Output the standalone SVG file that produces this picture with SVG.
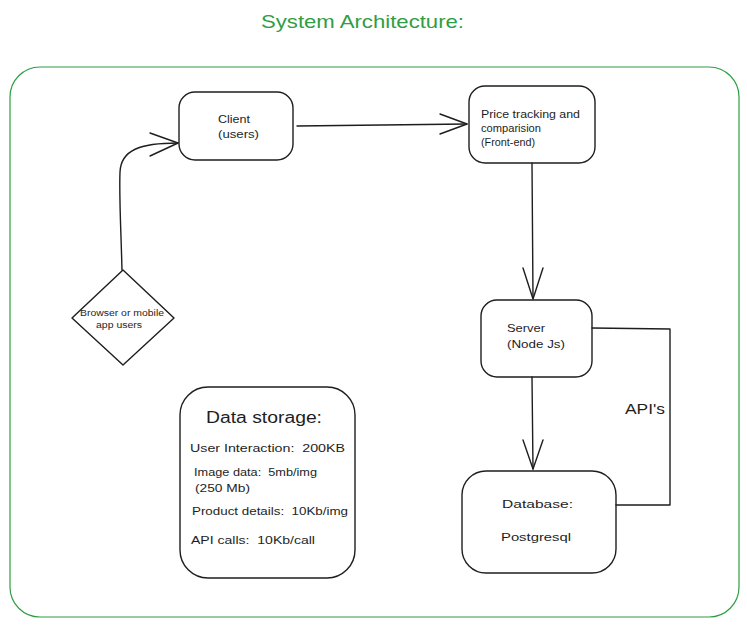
<svg xmlns="http://www.w3.org/2000/svg" width="747" height="627" viewBox="0 0 747 627">
<style>
.box{fill:none;stroke:#1e1e1e;stroke-width:1.4}
.ln{fill:none;stroke:#1e1e1e;stroke-width:1.4;stroke-linecap:round;stroke-linejoin:round}
text{font-family:"Liberation Sans",Arial,sans-serif;fill:#1e1e1e;white-space:pre}
.t{font-size:11.5px}
.s{font-size:10px}
</style>
<rect width="747" height="627" fill="#ffffff"/>
<text x="261" y="28" textLength="203" lengthAdjust="spacingAndGlyphs" style="font-size:19px;fill:#2f9e44">System Architecture:</text>
<rect x="10" y="67" width="729" height="550" rx="30" fill="none" stroke="#2f9e44" stroke-width="1.2"/>
<g id="connectors">
<path class="ln" d="M122,270 C121,230 119,195 120,172 C121,150 140,143 178,143"/>
<path class="ln" d="M150,133 L178,143 L150,156"/>
<path class="ln" d="M297,126 L467,124"/>
<path class="ln" d="M440,114 L467,124 L440,134"/>
<path class="ln" d="M532,163 L533,298"/>
<path class="ln" d="M523,268 L533,299 L543,268"/>
<path class="ln" d="M532,377 L533,469"/>
<path class="ln" d="M523,440 L533,469 L543,440"/>
<path class="ln" d="M592,328 L670,329 L670,505 L616,505"/>
<text x="625" y="414" textLength="40" lengthAdjust="spacingAndGlyphs" style="font-size:14px">API's</text>
</g>
<g id="client">
<rect class="box" x="179" y="92" width="114" height="68" rx="16"/>
<text class="t" x="218" y="123" textLength="32" lengthAdjust="spacingAndGlyphs">Client</text>
<text class="t" x="218" y="138" textLength="41" lengthAdjust="spacingAndGlyphs">(users)</text>
</g>
<g id="frontend">
<rect class="box" x="469" y="86" width="126" height="77" rx="16"/>
<text class="s" x="481" y="118" textLength="99" lengthAdjust="spacingAndGlyphs">Price tracking and</text>
<text class="s" x="481" y="132" textLength="60" lengthAdjust="spacingAndGlyphs">comparision</text>
<text class="s" x="481" y="146" textLength="54" lengthAdjust="spacingAndGlyphs">(Front-end)</text>
</g>
<g id="server">
<rect class="box" x="481" y="300" width="111" height="77" rx="16"/>
<text class="t" x="507" y="332" textLength="38" lengthAdjust="spacingAndGlyphs">Server</text>
<text class="t" x="507" y="348" textLength="58" lengthAdjust="spacingAndGlyphs">(Node Js)</text>
</g>
<g id="database">
<rect class="box" x="462" y="471" width="154" height="102" rx="24"/>
<text class="t" x="502" y="508" textLength="71" lengthAdjust="spacingAndGlyphs">Database:</text>
<text class="t" x="501" y="541" textLength="70" lengthAdjust="spacingAndGlyphs">Postgresql</text>
</g>
<g id="users">
<path class="box" d="M123,270 L174,318 L123,365 L72,318 Z" stroke-linejoin="round"/>
<text x="80" y="316" textLength="84" lengthAdjust="spacingAndGlyphs" style="font-size:8.5px">Browser or mobile</text>
<text x="96" y="328" textLength="46" lengthAdjust="spacingAndGlyphs" style="font-size:8.5px">app users</text>
</g>
<g id="datastorage">
<rect class="box" x="180" y="387" width="175" height="191" rx="28"/>
<text x="206" y="423" textLength="116" lengthAdjust="spacingAndGlyphs" style="font-size:16px">Data storage:</text>
<text class="t" x="190" y="452" textLength="155" lengthAdjust="spacingAndGlyphs">User Interaction:  200KB</text>
<text class="t" x="194" y="476" textLength="123" lengthAdjust="spacingAndGlyphs">Image data:  5mb/img</text>
<text class="t" x="195" y="492" textLength="55" lengthAdjust="spacingAndGlyphs">(250 Mb)</text>
<text class="t" x="192" y="515" textLength="156" lengthAdjust="spacingAndGlyphs">Product details:  10Kb/img</text>
<text class="t" x="191" y="544" textLength="124" lengthAdjust="spacingAndGlyphs">API calls:  10Kb/call</text>
</g>
</svg>
